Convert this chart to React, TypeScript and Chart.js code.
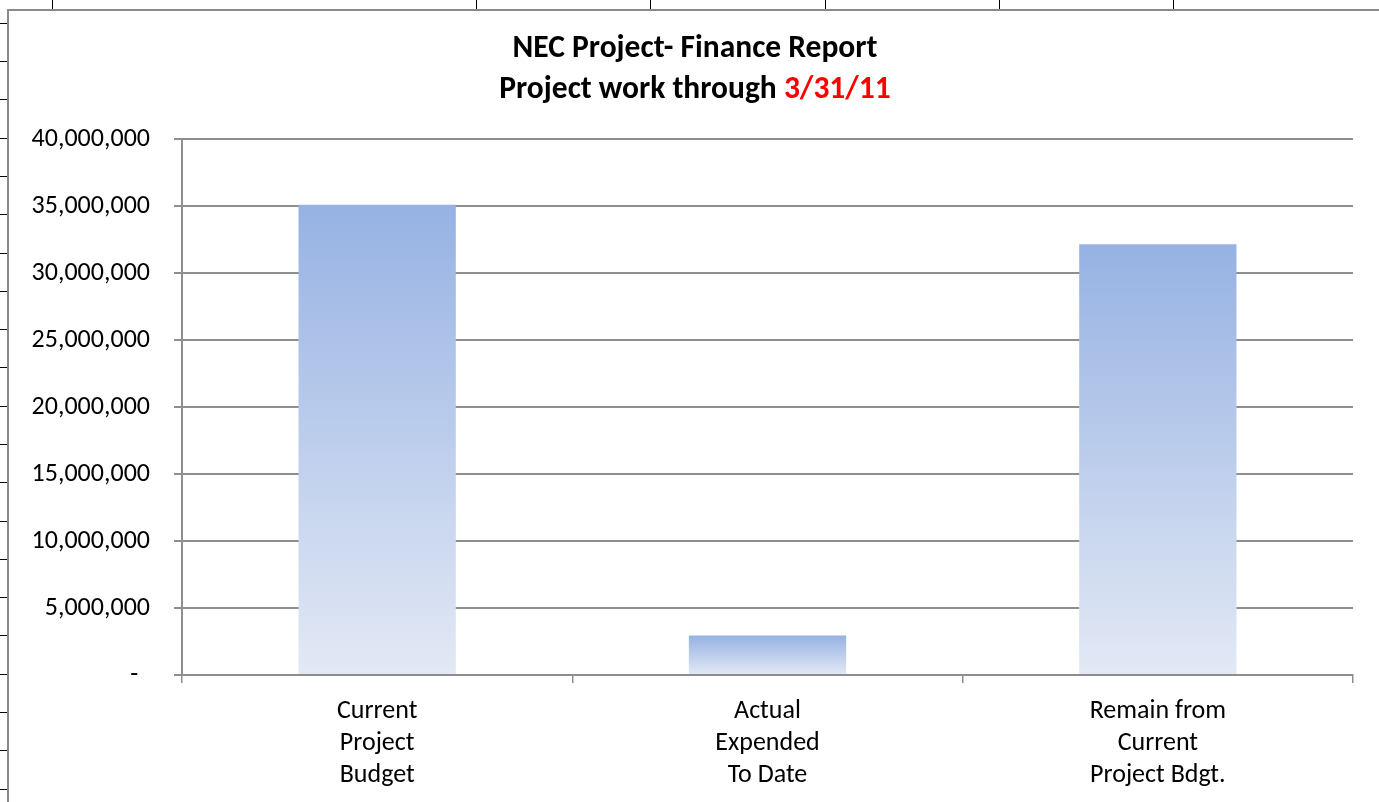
import React, { useEffect, useRef } from "react";
import { Chart, registerables } from "chart.js";

Chart.register(...registerables);

const categories: string[][] = [
  ["Current", "Project", "Budget"],
  ["Actual", "Expended", "To Date"],
  ["Remain from", "Current", "Project Bdgt."],
];
const values: number[] = [35100000, 2950000, 32150000];
const yTicks: number[] = [0, 5000000, 10000000, 15000000, 20000000, 25000000, 30000000, 35000000, 40000000];
const titleLine1 = "NEC Project- Finance Report";
const titleLine2Black = "Project work through ";
const titleLine2Red = "3/31/11";

const FONT = "Calibri, Carlito, 'Open Sans', sans-serif";

const decorPlugin = {
  id: "decor",
  beforeDraw(chart: any) {
    const ctx = chart.ctx as CanvasRenderingContext2D;
    ctx.save();
    ctx.fillStyle = "#ffffff";
    ctx.fillRect(0, 0, chart.width, chart.height);
    // spreadsheet lines
    ctx.strokeStyle = "#000000";
    ctx.lineWidth = 1;
    const cols = [52, 476, 650, 825, 999, 1173];
    cols.forEach((x) => {
      ctx.beginPath();
      ctx.moveTo(x + 0.5, 0);
      ctx.lineTo(x + 0.5, 9);
      ctx.stroke();
    });
    for (let y = 22.7; y < chart.height; y += 38.3) {
      const yy = Math.round(y) + 0.5;
      ctx.beginPath();
      ctx.moveTo(0, yy);
      ctx.lineTo(8, yy);
      ctx.stroke();
    }
    // chart frame
    ctx.strokeStyle = "#8a8a8a";
    ctx.lineWidth = 2;
    ctx.beginPath();
    ctx.moveTo(8, chart.height + 2);
    ctx.lineTo(8, 10);
    ctx.lineTo(chart.width + 2, 10);
    ctx.stroke();
    ctx.restore();
  },
  afterDraw(chart: any) {
    const ctx = chart.ctx as CanvasRenderingContext2D;
    ctx.save();
    ctx.font = `bold 31.5px ${FONT}`;
    ctx.textBaseline = "middle";
    ctx.textAlign = "left";
    const cx = 695;
    const w1 = ctx.measureText(titleLine1).width;
    ctx.fillStyle = "#000000";
    ctx.fillText(titleLine1, cx - w1 / 2, 49);
    const wa = ctx.measureText(titleLine2Black).width;
    const wb = ctx.measureText(titleLine2Red).width;
    const start = cx - (wa + wb) / 2;
    ctx.fillText(titleLine2Black, start, 90);
    ctx.fillStyle = "#ff0000";
    ctx.fillText(titleLine2Red, start + wa, 90);
    ctx.restore();
  },
};

export default function App() {
  const ref = useRef<HTMLCanvasElement | null>(null);

  useEffect(() => {
    if (!ref.current) return;
    const chart = new Chart(ref.current, {
      type: "bar",
      data: {
        labels: categories,
        datasets: [
          {
            data: values,
            backgroundColor: (c: any) => {
              const ch = c.chart;
              const y = ch.scales && ch.scales.y;
              if (!y || !ch.chartArea || c.raw === undefined) return "#B4C7EA";
              const top = y.getPixelForValue(c.raw);
              const bottom = y.getPixelForValue(0);
              if (!isFinite(top) || !isFinite(bottom) || top === bottom) return "#B4C7EA";
              const g = ch.ctx.createLinearGradient(0, top, 0, bottom);
              g.addColorStop(0, "#96B2E3");
              g.addColorStop(1, "#E3E9F5");
              return g;
            },
            borderWidth: 0,
            categoryPercentage: 1,
            barPercentage: 0.403,
          },
        ],
      },
      options: {
        responsive: false,
        animation: false,
        layout: { padding: { top: 139, left: 0, right: 26, bottom: 0 } },
        plugins: {
          legend: { display: false },
          title: { display: false },
          tooltip: { enabled: false },
        },
        scales: {
          x: {
            offset: true,
            grid: {
              display: true,
              offset: true,
              drawOnChartArea: false,
              drawTicks: true,
              tickLength: 8,
              color: "#8e8e8e",
              lineWidth: 1.5,
            },
            border: { color: "#8e8e8e", width: 2 },
            ticks: {
              color: "#000000",
              font: { family: FONT, size: 26, lineHeight: 1.23 },
              padding: 13,
              maxRotation: 0,
              autoSkip: false,
            },
            afterFit: (s: any) => {
              s.height = 127;
            },
          },
          y: {
            min: 0,
            max: 40000000,
            afterBuildTicks: (s: any) => {
              s.ticks = yTicks.map((v) => ({ value: v }));
            },
            grid: {
              color: "#8e8e8e",
              lineWidth: 2,
              tickLength: 8,
              drawTicks: true,
            },
            border: { color: "#8e8e8e", width: 2 },
            ticks: {
              color: "#000000",
              font: { family: FONT, size: 26 },
              padding: 24,
              callback: (v: any) => (Number(v) === 0 ? "-  " : Number(v).toLocaleString("en-US")),
            },
            afterFit: (s: any) => {
              s.width = 182;
            },
          },
        },
      },
      plugins: [decorPlugin],
    });
    return () => chart.destroy();
  }, []);

  return (
    <div style={{ position: "fixed", left: 0, top: 0, width: 1379, height: 802, background: "#fff" }}>
      <canvas ref={ref} width={1379} height={802} style={{ display: "block" }} />
    </div>
  );
}
